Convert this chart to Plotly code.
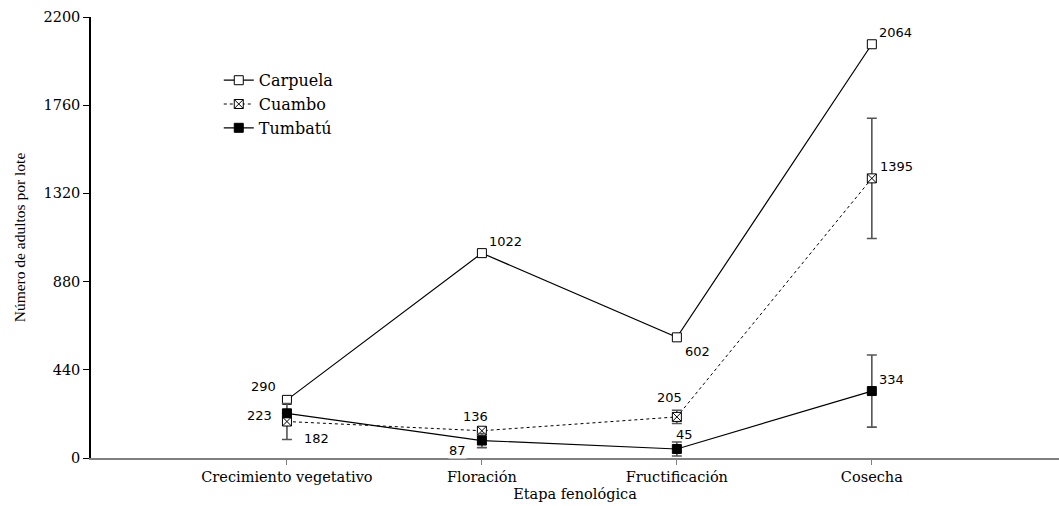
import plotly.graph_objects as go

# Phenological stages (x categories)
etapas = ["Crecimiento vegetativo", "Floración", "Fructificación", "Cosecha"]

# Mean number of adults per plot for each site
carpuela = [290, 1022, 602, 2064]
cuambo = [182, 136, 205, 1395]
tumbatu = [223, 87, 45, 334]

# Error bar half-lengths
cuambo_err = [90, 0, 33, 300]
tumbatu_err = [0, 35, 35, 180]

y_ticks = [0, 440, 880, 1320, 1760, 2200]

xpos = list(range(len(etapas)))

serif = "DejaVu Serif"
sans = "DejaVu Sans"

fig = go.Figure()

fig.add_trace(go.Scatter(
    x=xpos, y=carpuela, name="Carpuela", mode="lines+markers",
    line=dict(color="black", width=1.2),
    marker=dict(symbol="square", size=9, color="white",
                line=dict(color="black", width=1)),
))
fig.add_trace(go.Scatter(
    x=xpos, y=cuambo, name="Cuambo", mode="lines+markers",
    line=dict(color="black", width=1, dash="dot"),
    marker=dict(symbol="square-x", size=9, color="white",
                line=dict(color="black", width=1)),
    error_y=dict(type="data", array=cuambo_err, visible=True,
                 color="#555555", thickness=1.6, width=5),
))
fig.add_trace(go.Scatter(
    x=xpos, y=tumbatu, name="Tumbatú", mode="lines+markers",
    line=dict(color="black", width=1.2),
    marker=dict(symbol="square", size=9, color="black",
                line=dict(color="black", width=1)),
    error_y=dict(type="data", array=tumbatu_err, visible=True,
                 color="#555555", thickness=1.6, width=5),
))

# Value labels: (series values, stage index, pixel offset x, pixel offset y)
label_specs = [
    (carpuela, 0, -23, 13), (carpuela, 1, 24, 12), (carpuela, 2, 21, -14), (carpuela, 3, 24, 12),
    (cuambo, 0, 30, -17), (cuambo, 1, -6, 14), (cuambo, 2, -7, 19), (cuambo, 3, 25, 12),
    (tumbatu, 0, -27, -2), (tumbatu, 1, -24, -10), (tumbatu, 2, 8, 14), (tumbatu, 3, 20, 12),
]
for series, i, dx, dy in label_specs:
    fig.add_annotation(
        x=xpos[i], y=series[i], xref="x", yref="y",
        text=str(series[i]), showarrow=False,
        xshift=dx, yshift=dy,
        font=dict(family=sans, size=13, color="black"),
        bgcolor="white" if (series is tumbatu and i == 1) else None,
        borderpad=0,
    )

fig.update_xaxes(
    range=[-1.005, 3.96], tickvals=xpos, ticktext=etapas,
    showline=True, linecolor="#808080", linewidth=2,
    ticks="outside", ticklen=5, tickcolor="#808080", tickwidth=1,
    showgrid=False, zeroline=False,
    tickfont=dict(family=serif, size=14.5, color="black"),
    title=dict(text="Etapa fenológica", standoff=4,
               font=dict(family=serif, size=14.5, color="black")),
    automargin=False,
)
fig.update_yaxes(
    range=[0, 2200], tickvals=y_ticks,
    showline=True, linecolor="black", linewidth=1.5,
    ticks="outside", ticklen=6, tickcolor="black", tickwidth=1,
    showgrid=False, zeroline=False,
    tickfont=dict(family=serif, size=14.5, color="black"),
    title=dict(text="Número de adultos por lote", standoff=14,
               font=dict(family="Liberation Serif", size=15.5, color="black")),
    automargin=False,
)

fig.update_layout(
    width=1059, height=506,
    margin=dict(l=91, r=0, t=17, b=48),
    paper_bgcolor="white", plot_bgcolor="white",
    showlegend=True,
    legend=dict(
        x=0.132, y=0.895, xanchor="left", yanchor="top",
        bgcolor="rgba(0,0,0,0)", borderwidth=0,
        font=dict(family=serif, size=16, color="black"),
        itemwidth=30, tracegroupgap=0,
    ),
)

fig.write_html("out.html")
